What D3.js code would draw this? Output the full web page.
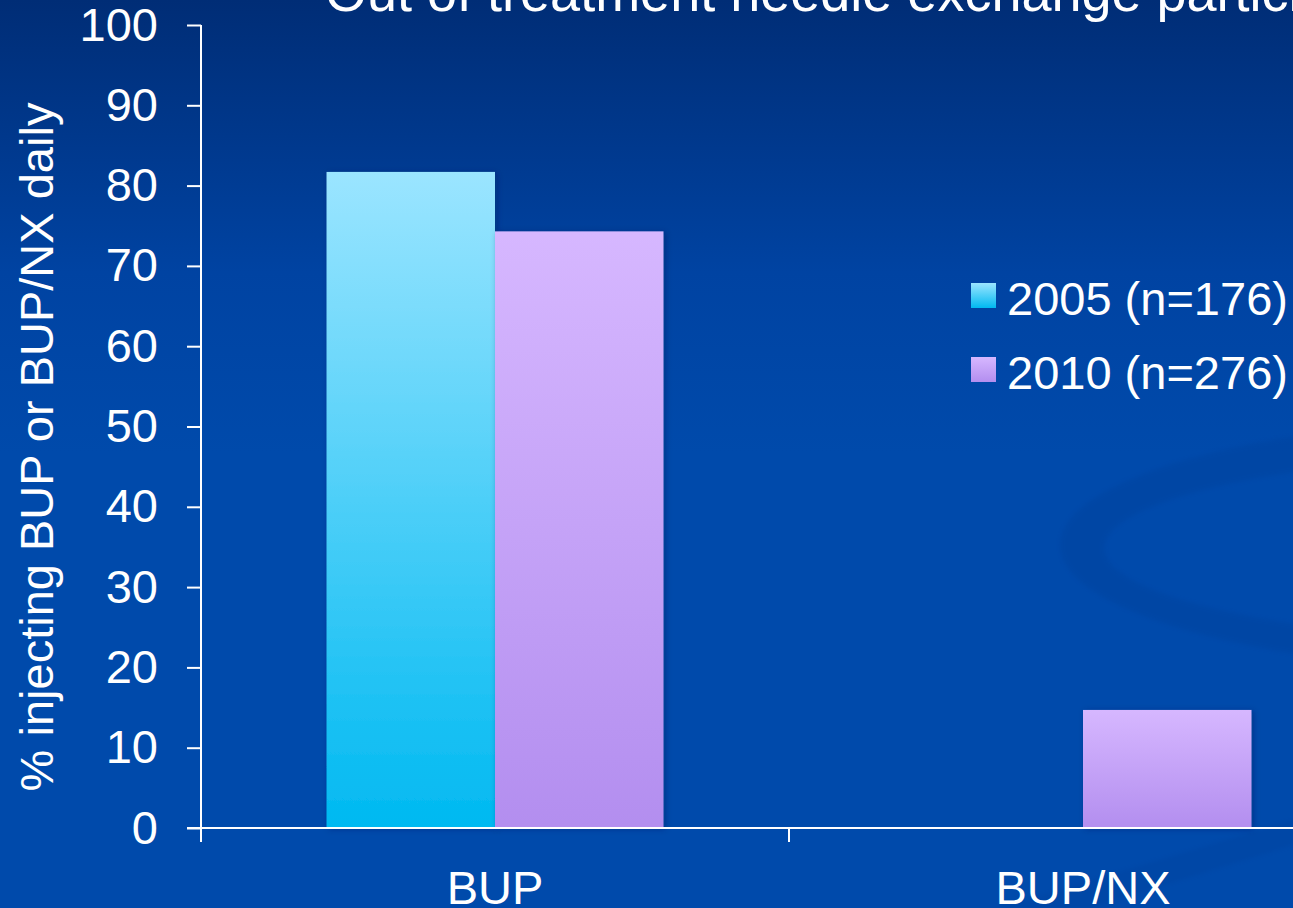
<!DOCTYPE html>
<html>
<head>
<meta charset="utf-8">
<script src="https://cdn.jsdelivr.net/npm/d3@7"></script>
<style>
  html, body { margin: 0; padding: 0; overflow: hidden; background: #004aab; }
  svg { display: block; }
  text { font-family: "Liberation Sans", Arial, sans-serif; fill: #ffffff; }
</style>
</head>
<body>
<svg id="chart" width="1293" height="908"></svg>
<script>
// Share of out-of-treatment needle exchange participants injecting BUP or BUP/NX daily
const categories = ["BUP", "BUP/NX"];
const seriesNames = ["2005 (n=176)", "2010 (n=276)"];
const values2005 = [81.7, 0];
const values2010 = [74.3, 14.7];
const yTicks = [0, 10, 20, 30, 40, 50, 60, 70, 80, 90, 100];
const titleText = "Out of treatment needle exchange participants";
const yTitle = "% injecting BUP or BUP/NX daily";

const W = 1293, H = 908;
const svg = d3.select("#chart");
const defs = svg.append("defs");

// slide background
const bg = defs.append("linearGradient").attr("id", "bg")
  .attr("x1", 0).attr("y1", 0).attr("x2", 0).attr("y2", 1);
bg.append("stop").attr("offset", "0").attr("stop-color", "#002d76");
bg.append("stop").attr("offset", "0.3").attr("stop-color", "#0043a2");
bg.append("stop").attr("offset", "0.5").attr("stop-color", "#004aab");
bg.append("stop").attr("offset", "1").attr("stop-color", "#004aab");

// bar fills
const seriesGrad = [
  { id: "g2005", top: "#9be5ff", bottom: "#00b9f1" },
  { id: "g2010", top: "#d6b7ff", bottom: "#b38eef" }
];
seriesGrad.forEach(g => {
  const lg = defs.append("linearGradient").attr("id", g.id)
    .attr("x1", 0).attr("y1", 0).attr("x2", 0).attr("y2", 1);
  lg.append("stop").attr("offset", "0").attr("stop-color", g.top);
  lg.append("stop").attr("offset", "1").attr("stop-color", g.bottom);
});

const shadow = defs.append("filter").attr("id", "shadow")
  .attr("x", "-10%").attr("y", "-10%").attr("width", "130%").attr("height", "130%");
shadow.append("feDropShadow").attr("dx", 2).attr("dy", 1).attr("stdDeviation", 3)
  .attr("flood-color", "#001a50").attr("flood-opacity", 0.35);

const soft = defs.append("filter").attr("id", "soft");
soft.append("feGaussianBlur").attr("stdDeviation", 2);

svg.append("rect").attr("width", W).attr("height", H).attr("fill", "url(#bg)");

// decorative swoosh on the right
const outer = `M ${1560 + 500},545 A 500,128 0 1,0 ${1560 - 500},545 A 500,128 0 1,0 ${1560 + 500},545 Z`;
const inner = `M ${1580 + 476},548 A 476,95 0 1,0 ${1580 - 476},548 A 476,95 0 1,0 ${1580 + 476},548 Z`;
svg.append("path").attr("d", outer + " " + inner)
  .attr("fill-rule", "evenodd").attr("fill", "#003a90").attr("opacity", 0.22)
  .attr("filter", "url(#soft)");
svg.append("path")
  .attr("d", "M 1000,908 L 1293,820 L 1293,845 L 1090,908 Z")
  .attr("fill", "#003a90").attr("opacity", 0.18).attr("filter", "url(#soft)");

// scales
const x0 = d3.scaleBand().domain(categories).range([201, 1377])
  .paddingInner(0.427).paddingOuter(0.2135);
const x1 = d3.scaleBand().domain(seriesNames).range([0, x0.bandwidth()]);
const y = d3.scaleLinear().domain([0, 100]).range([828, 25]);

// title (runs off the right edge)
svg.append("text").attr("x", 325).attr("y", 11)
  .attr("font-size", 54).text(titleText);

// bars
const rows = categories.map((c, i) => ({ cat: c, vals: [values2005[i], values2010[i]] }));
const grp = svg.append("g");
rows.forEach(r => {
  r.vals.forEach((v, j) => {
    if (v <= 0) return;
    grp.append("rect")
      .attr("x", x0(r.cat) + x1(seriesNames[j]))
      .attr("y", y(v))
      .attr("width", x1.bandwidth())
      .attr("height", y(0) - y(v))
      .attr("fill", `url(#${seriesGrad[j].id})`)
      .attr("filter", "url(#shadow)");
  });
});

// y axis
const yAxis = svg.append("g").attr("transform", "translate(201,0)")
  .call(d3.axisLeft(y).tickValues(yTicks).tickSize(14).tickPadding(29));
yAxis.select(".domain").attr("stroke", "#fff").attr("stroke-width", 2)
  .attr("d", "M0,25V842");
yAxis.selectAll(".tick line").attr("stroke", "#fff").attr("stroke-width", 2);
yAxis.selectAll(".tick text").attr("font-size", 47)
  .attr("font-family", "Liberation Sans, Arial, sans-serif").attr("fill", "#fff");

// x axis baseline + category separators
svg.append("line").attr("x1", 187).attr("x2", W).attr("y1", y(0)).attr("y2", y(0))
  .attr("stroke", "#fff").attr("stroke-width", 2);
const seps = [x0.range()[0] + x0.step()];
svg.selectAll(".sep").data(seps).enter().append("line")
  .attr("x1", d => d).attr("x2", d => d).attr("y1", y(0)).attr("y2", 842)
  .attr("stroke", "#fff").attr("stroke-width", 2);

// category labels
svg.selectAll(".cat").data(categories).enter().append("text")
  .attr("x", d => x0(d) + x0.bandwidth() / 2)
  .attr("y", 904)
  .attr("text-anchor", "middle")
  .attr("font-size", 47)
  .text(d => d);

// y axis title
svg.append("text")
  .attr("transform", "translate(53,447) rotate(-90)")
  .attr("text-anchor", "middle")
  .attr("font-size", 47)
  .text(yTitle);

// legend
const legend = svg.append("g");
seriesNames.forEach((name, i) => {
  const ly = 283 + i * 74;
  legend.append("rect").attr("x", 971).attr("y", ly).attr("width", 25).attr("height", 25)
    .attr("fill", `url(#${seriesGrad[i].id})`);
  legend.append("text").attr("x", 1007).attr("y", ly + 32)
    .attr("font-size", 47).text(name);
});
</script>
</body>
</html>
